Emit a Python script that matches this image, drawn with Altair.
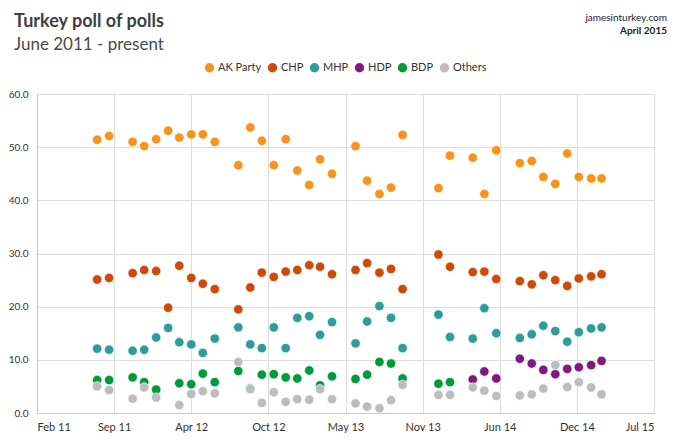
import altair as alt
import pandas as pd

# ---- data ----
dates = [
    "2011-08-03", "2011-09-03", "2011-11-03", "2011-12-03", "2012-01-03",
    "2012-02-03", "2012-03-03", "2012-04-03", "2012-05-03", "2012-06-03",
    "2012-08-03", "2012-09-03", "2012-10-03", "2012-11-03", "2012-12-04",
    "2013-01-03", "2013-02-03", "2013-03-03", "2013-04-03", "2013-06-03",
    "2013-07-03", "2013-08-04", "2013-09-03", "2013-10-03", "2014-01-04",
    "2014-02-03", "2014-04-03", "2014-05-03", "2014-06-03", "2014-08-03",
    "2014-09-03", "2014-10-03", "2014-11-03", "2014-12-04", "2015-01-03",
    "2015-02-04", "2015-03-03",
]
ak_party = [51.4, 52.1, 51.0, 50.2, 51.5, 53.1, 51.8, 52.4, 52.4, 51.0,
            46.6, 53.7, 51.2, 46.6, 51.5, 45.6, 42.9, 47.7, 45.0, 50.2,
            43.7, 41.2, 42.4, 52.3, 42.3, 48.4, 48.0, 41.2, 49.4, 47.0,
            47.4, 44.4, 43.1, 48.8, 44.4, 44.1, 44.1]
chp = [25.1, 25.4, 26.3, 26.9, 26.7, 19.8, 27.7, 25.4, 24.3, 23.3,
       19.5, 23.6, 26.4, 25.6, 26.6, 26.9, 27.8, 27.5, 26.1, 26.9,
       28.2, 26.4, 27.1, 23.3, 29.8, 27.5, 26.5, 26.6, 25.2, 24.8,
       24.2, 25.9, 25.0, 23.9, 25.3, 25.7, 26.1]
mhp = [12.1, 11.9, 11.7, 11.9, 14.2, 16.0, 13.3, 12.9, 11.3, 14.0,
       16.1, 12.9, 12.2, 16.1, 12.2, 17.9, 18.2, 14.7, 17.1, 13.1,
       17.2, 20.1, 17.9, 12.2, 18.5, 14.3, 14.0, 19.7, 15.0, 14.1,
       14.8, 16.4, 15.4, 13.4, 15.2, 15.9, 16.1]
hdp = [None] * 26 + [6.3, 7.8, 6.5, 10.2, 9.3, 8.1, 7.3, 8.3, 8.6, 9.0, 9.8]
bdp = [6.2, 6.2, 6.7, 5.8, 4.4, None, 5.6, 5.4, 7.4, 5.8,
       7.9, 4.6, 7.2, 7.3, 6.7, 6.5, 8.0, 5.2, 6.9, 6.4,
       7.2, 9.6, 9.3, 6.5, 5.5, 5.8] + [None] * 11
others = [5.0, 4.3, 2.7, 4.8, 2.9, None, 1.5, 3.6, 4.1, 3.7,
          9.6, 4.5, 1.9, 3.9, 2.1, 2.6, 2.5, 4.5, 2.6, 1.8,
          1.2, 0.9, 2.4, 5.3, 3.4, 3.4, 4.8, 4.2, 3.2, 3.3,
          3.5, 4.6, 9.0, 4.9, 5.8, 4.8, 3.5]

parties = ["AK Party", "CHP", "MHP", "HDP", "BDP", "Others"]
colors = ["#F7941D", "#CC4A0A", "#2F9B9B", "#80197F", "#009A3A", "#BDBDBD"]
sizes = [88, 88, 88, 88, 88, 34]
series = [ak_party, chp, mhp, hdp, bdp, others]

x_ticks = [(2011, 2, 28), (2011, 9, 16), (2012, 4, 3), (2012, 10, 20),
           (2013, 5, 8), (2013, 11, 24), (2014, 6, 12), (2014, 12, 29),
           (2015, 7, 17)]
y_ticks = [0, 10, 20, 30, 40, 50, 60]

TITLE = "Turkey poll of polls"
SUBTITLE = "June 2011 - present"
SOURCE = "jamesinturkey.com"
DATE_NOTE = "April 2015"

rows = []
for p, vals in zip(parties, series):
    for d, v in zip(dates, vals):
        if v is not None:
            rows.append({"date": d, "party": p, "value": v})
df = pd.DataFrame(rows)

FONT = "Lato"

def dt(t):
    return alt.DateTime(year=t[0], month=t[1], date=t[2], utc=True)

points = alt.Chart(df).mark_circle(opacity=1, stroke="white", strokeWidth=0.6).encode(
    x=alt.X("date:T",
            scale=alt.Scale(type="utc", domain=[dt(x_ticks[0]), dt(x_ticks[-1])], nice=False),
            axis=alt.Axis(values=[dt(t) for t in x_ticks],
                          labelExpr="utcFormat(datum.value, '%b %y')",
                          title=None, labelPadding=8)),
    y=alt.Y("value:Q", scale=alt.Scale(domain=[0, 60], nice=False),
            axis=alt.Axis(values=y_ticks, format=".1f", title=None, labelPadding=9,
                          labelFontSize=10)),
    color=alt.Color("party:N", scale=alt.Scale(domain=parties, range=colors),
                    legend=alt.Legend(orient="none", legendX=167, legendY=-32,
                                      direction="horizontal", title=None,
                                      symbolType="circle", symbolSize=70,
                                      symbolStrokeWidth=0,
                                      labelFontSize=11, labelFont=FONT,
                                      labelColor="#333333", columnPadding=5,
                                      labelOffset=3)),
    size=alt.Size("party:N", scale=alt.Scale(domain=parties, range=sizes), legend=None),
)

def note(text, x, y, size, weight, color, align):
    return alt.Chart(pd.DataFrame({"t": [text]})).mark_text(
        align=align, baseline="alphabetic", fontSize=size, fontWeight=weight,
        font=FONT, color=color
    ).encode(text="t:N", x=alt.value(x), y=alt.value(y))

chart = alt.layer(
    points,
    note(TITLE, -23, -67, 18, "bold", "#404040", "left"),
    note(SUBTITLE, -23, -44, 17, "normal", "#4a4a4a", "left"),
    note(SOURCE, 630, -73, 10, "normal", "#222222", "right"),
    note(DATE_NOTE, 630, -60, 10, "bold", "#222222", "right"),
).properties(
    width=617, height=319,
    autosize=alt.AutoSizeParams(type="none"),
    padding={"left": 29, "top": 86, "right": 18, "bottom": 20},
).configure_view(strokeWidth=0).configure_axis(
    domainColor="#c8c8c8", gridColor="#dddddd", gridWidth=1, ticks=False,
    labelFont=FONT, labelFontSize=11, labelColor="#333333", grid=True
)

chart.save("out.html", embed_options={"renderer": "svg", "actions": False})
